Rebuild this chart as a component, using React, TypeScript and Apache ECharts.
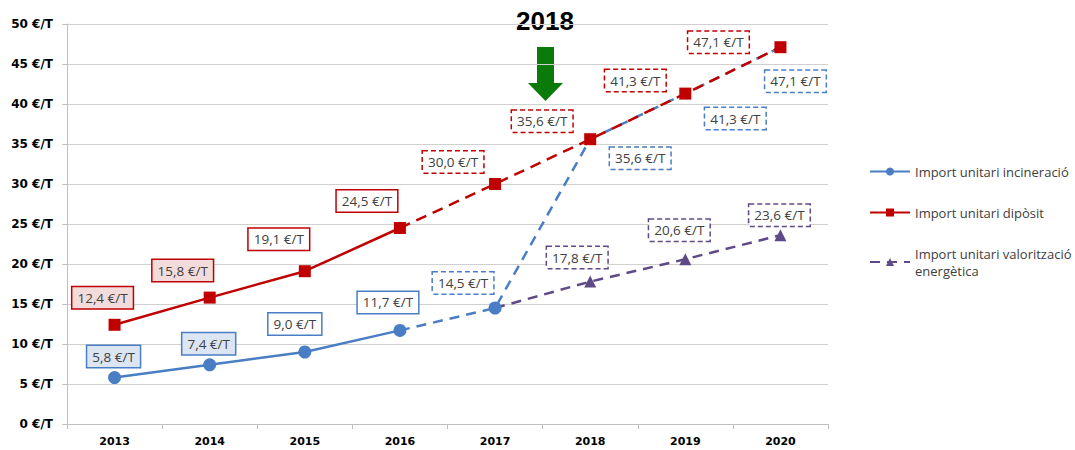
import React, { useEffect, useRef } from "react";
import * as echarts from "echarts";

const years = ["2013", "2014", "2015", "2016", "2017", "2018", "2019", "2020"];
const incineracioValues = [5.8, 7.4, 9.0, 11.7, 14.5, 35.6, 41.3, 47.1];
const dipositValues = [12.4, 15.8, 19.1, 24.5, 30.0, 35.6, 41.3, 47.1];
const valoritzacioValues: (number | null)[] = [null, null, null, null, 14.5, 17.8, 20.6, 23.6];
const yTicks = [0, 5, 10, 15, 20, 25, 30, 35, 40, 45, 50];
const lastActualIndex = 3; // 2016: last solid (actual) point

const NAME_INC = "Import unitari incineració";
const NAME_DIP = "Import unitari dipòsit";
const NAME_VAL = "Import unitari valorització energètica";

const BLUE = "#4A7EC4";
const RED = "#C00000";
const PURPLE = "#5E4A86";

// label placement (offsets from point, px) — styling only
const incOffsets = [[-1, -21], [-1, -21], [-10, -28], [-12, -28], [-32, -25], [50, 19], [50, 25], [15, 34]];
const dipOffsets = [[-12, -27], [-27, -27], [-26, -32], [-33, -27], [-42, -22], [-48, -18], [-50, -13], [-62, -5]];
const valOffsets = [[0, 0], [0, 0], [0, 0], [0, 0], [0, 0], [-13, -24], [-6, -29], [-1, -20]];

const fmt = (v: number) => v.toFixed(1).replace(".", ",") + " €/T";

function labelCfg(color: string, offset: number[], dashed: boolean, fill: string) {
  return {
    show: true,
    position: "inside",
    offset,
    formatter: (p: any) => fmt(p.value as number),
    color: "#404040",
    fontFamily: "Open Sans",
    fontSize: 13.5,
    lineHeight: 15,
    padding: [3, 5, 3, 5],
    backgroundColor: fill,
    borderColor: color,
    borderWidth: 1.5,
    borderType: dashed ? [5, 3] : "solid",
  };
}

export default function App() {
  const ref = useRef<HTMLDivElement>(null);

  useEffect(() => {
    document.body.style.margin = "0";
    if (!ref.current) return;
    const chart = echarts.init(ref.current, undefined, { renderer: "svg" });

    const incSolid = incineracioValues.map((v, i) =>
      i <= lastActualIndex
        ? {
            value: v,
            label: labelCfg(BLUE, incOffsets[i], false, i < 2 ? "#DCE6F2" : "#FFFFFF"),
          }
        : "-"
    );
    const incDashed = incineracioValues.map((v, i) =>
      i >= lastActualIndex
        ? {
            value: v,
            symbolSize: i === lastActualIndex ? 0 : i === lastActualIndex + 1 ? 13 : 9,
            label: i > lastActualIndex ? labelCfg(BLUE, incOffsets[i], true, "#FFFFFF") : { show: false },
          }
        : "-"
    );
    const dipSolid = dipositValues.map((v, i) =>
      i <= lastActualIndex
        ? {
            value: v,
            label: labelCfg(RED, dipOffsets[i], false, i < 2 ? "#F2DCDB" : "#FFFFFF"),
          }
        : "-"
    );
    const dipDashed = dipositValues.map((v, i) =>
      i >= lastActualIndex
        ? {
            value: v,
            symbol: i > lastActualIndex ? "rect" : "none",
            label: i > lastActualIndex ? labelCfg(RED, dipOffsets[i], true, "#FFFFFF") : { show: false },
          }
        : "-"
    );
    const valDashed = valoritzacioValues.map((v, i) =>
      v === null
        ? "-"
        : {
            value: v,
            symbol: i > lastActualIndex + 1 ? "triangle" : "none",
            label: i > lastActualIndex + 1 ? labelCfg(PURPLE, valOffsets[i], true, "#FFFFFF") : { show: false },
          }
    );

    const axisFont = { color: "#000000", fontFamily: "DejaVu Sans", fontWeight: "bold" };

    const option: any = {
      animation: false,
      backgroundColor: "#FFFFFF",
      grid: { left: 67, top: 24, width: 761, height: 400, containLabel: false },
      legend: {
        orient: "vertical",
        left: 864,
        top: 158,
        itemWidth: 40,
        itemHeight: 10,
        itemGap: 24,
        data: [NAME_INC, NAME_DIP, NAME_VAL],
        formatter: (name: string) =>
          name === NAME_VAL ? "Import unitari valorització\nenergètica" : name,
        textStyle: { color: "#404040", fontFamily: "Open Sans", fontSize: 13, lineHeight: 17 },
      },
      xAxis: {
        type: "category",
        data: years,
        boundaryGap: true,
        axisLine: { lineStyle: { color: "#BFBFBF", width: 1 } },
        axisTick: { show: true, length: 5, lineStyle: { color: "#BFBFBF" } },
        axisLabel: { ...axisFont, fontSize: 11, margin: 12 },
      },
      yAxis: {
        type: "value",
        min: yTicks[0],
        max: yTicks[yTicks.length - 1],
        interval: yTicks[1] - yTicks[0],
        axisLine: { show: true, lineStyle: { color: "#BFBFBF", width: 1 } },
        axisTick: { show: true, length: 5, lineStyle: { color: "#BFBFBF" } },
        axisLabel: {
          ...axisFont,
          formatter: (v: number) => `${v} €/T`,
          fontSize: 12,
          margin: 14,
        },
        splitLine: { lineStyle: { color: "#D0D0D0", width: 1 } },
      },
      series: [
        {
          name: NAME_INC,
          type: "line",
          data: incSolid,
          symbol: "circle",
          symbolSize: 13,
          itemStyle: { color: BLUE },
          lineStyle: { color: BLUE, width: 2.5 },
          z: 3,
        },
        {
          name: NAME_VAL,
          type: "line",
          data: valDashed,
          symbol: "triangle",
          symbolSize: 12,
          itemStyle: { color: PURPLE },
          lineStyle: { color: PURPLE, width: 2.5, type: [10, 7] },
          z: 2,
        },
        {
          name: NAME_INC,
          type: "line",
          data: incDashed,
          symbol: "circle",
          symbolSize: 13,
          itemStyle: { color: BLUE },
          lineStyle: { color: BLUE, width: 2.5, type: [10, 7] },
          z: 3,
        },
        {
          name: NAME_DIP,
          type: "line",
          data: dipSolid,
          symbol: "rect",
          symbolSize: 12,
          itemStyle: { color: RED },
          lineStyle: { color: RED, width: 2.5 },
          z: 4,
        },
        {
          name: NAME_DIP,
          type: "line",
          data: dipDashed,
          symbol: "rect",
          symbolSize: 12,
          itemStyle: { color: RED },
          lineStyle: { color: RED, width: 2.5, type: [11, 7] },
          z: 4,
        },
      ],
      graphic: [
        {
          type: "text",
          left: 516,
          top: 8,
          style: {
            text: "2018",
            fill: "#000000",
            fontFamily: "Liberation Sans",
            fontWeight: "bold",
            fontSize: 26,
            lineWidth: 0,
            stroke: null,
          },
        },
        {
          type: "polygon",
          shape: {
            points: [
              [537, 47],
              [554, 47],
              [554, 83],
              [563, 83],
              [545.5, 101],
              [528, 83],
              [537, 83],
            ],
          },
          style: { fill: "#0A7A0A" },
        },
      ],
    };

    chart.setOption(option);
    return () => chart.dispose();
  }, []);

  return <div ref={ref} style={{ width: 1075, height: 450 }} />;
}
